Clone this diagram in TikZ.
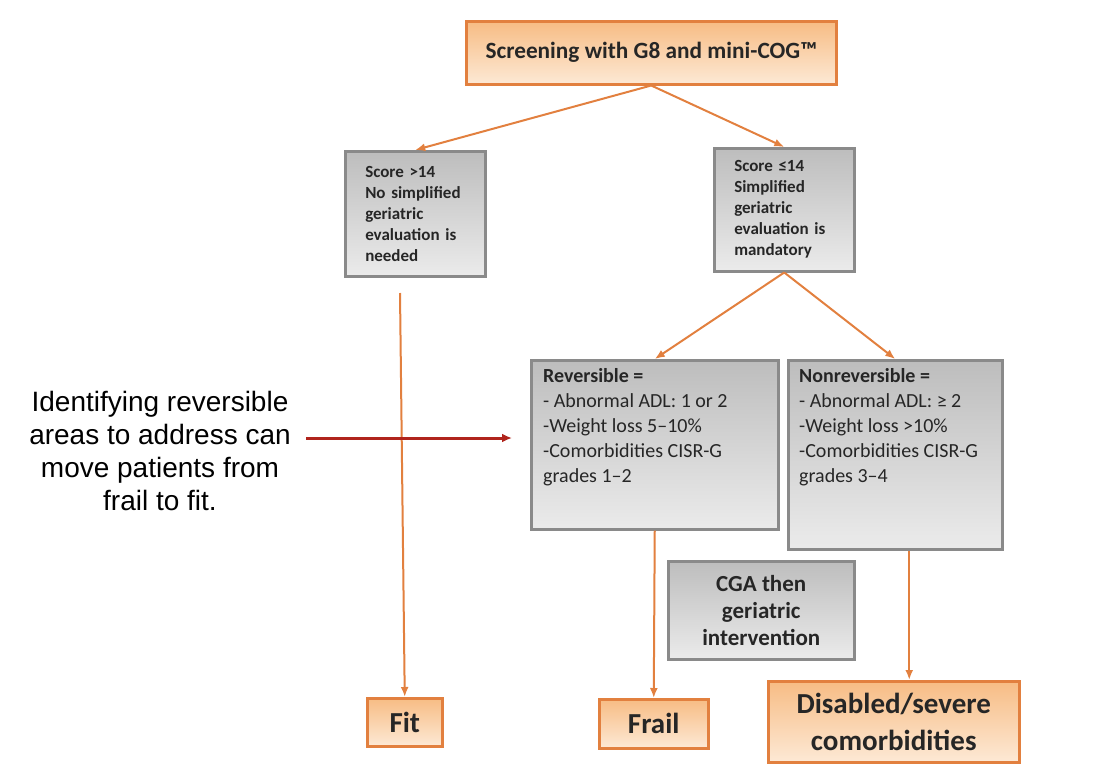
\documentclass[tikz,border=0pt]{standalone}
\usepackage{fontspec}
\setmainfont{Carlito}
\newfontfamily\notefont{Liberation Sans}
\usepackage{xcolor}
\usepackage{tikz}
\usetikzlibrary{arrows.meta,positioning,shadings}
\definecolor{orline}{HTML}{E2803F}
\definecolor{ortop}{HTML}{F7BC84}
\definecolor{orbot}{HTML}{FDE9D5}
\definecolor{grline}{HTML}{8A8A8A}
\definecolor{grtop}{HTML}{BDBDBD}
\definecolor{grbot}{HTML}{EBEBEB}
\definecolor{txtdark}{HTML}{262626}
\definecolor{notered}{HTML}{B0241C}

\begin{document}
\begin{tikzpicture}[x=1pt,y=-1pt,>=Latex, every node/.style={text=txtdark}]
\tikzstyle{obox}=[draw=orline, line width=2.5pt, top color=ortop, bottom color=orbot, align=center, inner sep=0pt, anchor=north west]
\tikzstyle{gbox}=[draw=grline, line width=2.5pt, top color=grtop, bottom color=grbot, align=left, inner sep=0pt, anchor=north west]
\tikzstyle{gtext}=[inner sep=0pt, anchor=north west, align=left, font=\fontsize{20}{25}\selectfont]
\tikzstyle{flow}=[->, draw=orline, line width=2pt, >={Latex[length=10pt,width=8pt]}]
\tikzstyle{redarrow}=[->, draw=notered, line width=3pt, >={Latex[length=10pt,width=9pt]}]
\useasboundingbox (0,0) rectangle (1106,782);
% screening
\node[obox, minimum width=370, minimum height=63, font=\fontsize{23.3}{27}\selectfont\bfseries] (scr) at (465,20) {Screening with G8 and mini-COG™};
% score boxes
\node[gbox, minimum width=140, minimum height=125, text width=100, font=\fontsize{17}{21}\selectfont\bfseries] (hi) at (344,150) {Score >14\\No simplified\\geriatric\\evaluation is\\needed};
\node[gbox, minimum width=140, minimum height=123, text width=100, font=\fontsize{17}{21}\selectfont\bfseries] (lo) at (713,147) {Score ≤14\\Simplified\\geriatric\\evaluation is\\mandatory};
% reversible / nonreversible
\node[gbox, minimum width=247, minimum height=169] (rev) at (530,359) {};
\node[gtext] (revt) at (543,368) {\textbf{Reversible =}\\- Abnormal ADL: 1 or 2\\-Weight loss 5–10\%\\-Comorbidities CISR-G\\grades 1–2};
\node[gbox, minimum width=214, minimum height=189] (nrev) at (787,359) {};
\node[gtext] (nrevt) at (799,368) {\textbf{Nonreversible =}\\- Abnormal ADL: ≥ 2\\-Weight loss >10\%\\-Comorbidities CISR-G\\grades 3–4};
\node[gbox, align=center, minimum width=186, minimum height=98, font=\fontsize{23}{27}\selectfont\bfseries] (cga) at (667,560) {CGA then\\geriatric\\intervention};
% outcomes
\node[obox, minimum width=75, minimum height=48, font=\fontsize{29}{34}\selectfont\bfseries] (fit) at (366,697) {Fit};
\node[obox, minimum width=109, minimum height=49, font=\fontsize{29}{34}\selectfont\bfseries] (frail) at (598,698) {Frail};
\node[obox, minimum width=251, minimum height=81, font=\fontsize{29}{37}\selectfont\bfseries] (dis) at (767,680) {Disabled/severe\\comorbidities};
% note
\node[font=\notefont\fontsize{28}{33}\selectfont, align=center, text=black] (note) at (160,451) {Identifying reversible\\areas to address can\\move patients from\\frail to fit.};
\coordinate (fitstart) at (400,293);
\coordinate (notept) at (306,438);
% connectors
\draw[flow] (scr.south) -- (hi.north);
\draw[flow] (scr.south) -- (lo.north);
\draw[flow] (lo.south) -- (rev.north);
\draw[flow] (lo.south) -- (nrev.north);
\draw[flow] (fitstart) -- (fit.north);
\draw[flow] (rev.south) -- (frail.north);
\draw[flow] ([xshift=14]nrev.south) -- ([xshift=14]nrev.south |- dis.north);
\draw[redarrow, shorten >=18pt] (notept) -- (notept -| rev.west);
\end{tikzpicture}
\end{document}
